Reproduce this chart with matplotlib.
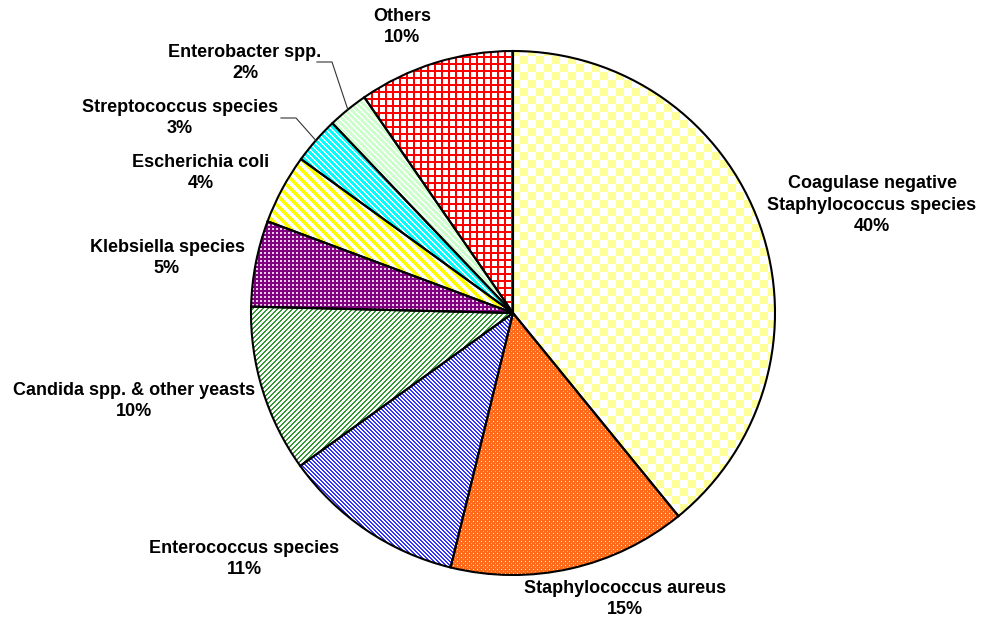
import numpy as np
import matplotlib
matplotlib.use("Agg")
import matplotlib.pyplot as plt
import matplotlib.colors as mcolors

# ---- data ----
categories = ["Coagulase negative\nStaphylococcus species", "Staphylococcus aureus",
              "Enterococcus species", "Candida spp. & other yeasts", "Klebsiella species",
              "Escherichia coli", "Streptococcus species", "Enterobacter spp.", "Others"]
values = [39.1, 14.7, 11.25, 10.3, 5.3, 4.3, 2.9, 2.5, 9.6]
pct_labels = ["40%", "15%", "11%", "10%", "5%", "4%", "3%", "2%", "10%"]

# label centres in pixel coordinates (x, y from top)
label_pos = [(872, 205), (625, 599), (244, 559), (134, 401), (167, 258),
             (201, 173), (180, 118), (245, 63), (402, 27)]

W, H = 981, 625
plt.rcParams['font.family'] = ['Liberation Sans', 'DejaVu Sans']

fig = plt.figure(figsize=(W / 100, H / 100), dpi=100)
ax = fig.add_axes([0, 0, 1, 1])

cx, cy, R = 513, H - 313, 262
wedges, _ = ax.pie(values, startangle=90, counterclock=False, center=(cx, cy), radius=R,
                   wedgeprops=dict(facecolor='none', edgecolor='black', linewidth=1.5, zorder=3))
ax.set_aspect('auto')
ax.set_xlim(0, W)
ax.set_ylim(0, H)
ax.axis('off')

# ---- textures ----
yy, xx = np.mgrid[0:H, 0:W]


def rgb(c):
    return np.array(mcolors.to_rgb(c))


def two(mask, fg, bg='white'):
    img = np.empty((H, W, 3))
    img[:] = rgb(bg)
    img[mask] = rgb(fg)
    return img


textures = []
# 1 checkerboard pale yellow
textures.append(two(((xx // 8 + yy // 8) % 2) == 0, '#FFFF99'))
# 2 orange with white dots
t = np.empty((H, W, 3)); t[:] = rgb('#FF6A1A')
t[((xx % 4) == 1) & ((yy % 4) == 1)] = rgb('white')
t[((xx % 4) == 3) & ((yy % 4) == 3)] = rgb('#FFB080')
textures.append(t)
# 3 blue downward diagonal
textures.append(two(((xx - yy) % 4) < 2, '#3333FF'))
# 4 green upward diagonal
textures.append(two(((xx + yy) % 5) < 2, '#339933'))
# 5 purple with light squares
t = np.empty((H, W, 3)); t[:] = rgb('#800080')
t[((xx % 4) < 2) & ((yy % 4) < 2)] = rgb('#E6CCE6')
textures.append(t)
# 6 yellow wide diagonal
textures.append(two(((xx - yy) % 10) < 5, '#FFFF00'))
# 7 cyan diagonal
textures.append(two(((xx - yy) % 6) < 4, '#00FFFF'))
# 8 light green diagonal
textures.append(two(((xx - yy) % 6) < 4, '#CCFFCC'))
# 9 red grid
textures.append(two(((xx % 7) < 2) | ((yy % 7) < 2), '#FF0000'))

for w, tex in zip(wedges, textures):
    im = ax.imshow(tex, extent=(0, W, 0, H), origin='upper', interpolation='nearest',
                   zorder=1, aspect='auto')
    im.set_clip_path(w)

# ---- labels ----
for (lx, ly), cat, p in zip(label_pos, categories, pct_labels):
    ax.text(lx, H - ly, cat + "\n" + p, ha='center', va='center', fontsize=13,
            fontweight='bold', linespacing=1.38, zorder=4)

# ---- leader lines for the two smallest slices ----
for idx, (ex, ey) in [(7, (317, 62)), (6, (281, 118))]:
    w = wedges[idx]
    mid = np.deg2rad((w.theta1 + w.theta2) / 2)
    px, py = cx + R * np.cos(mid), cy + R * np.sin(mid)
    ax.plot([ex, ex + 15, px], [H - ey, H - ey, py], color='#333333', lw=0.8, zorder=4)

fig.savefig("out.png", dpi=100)
